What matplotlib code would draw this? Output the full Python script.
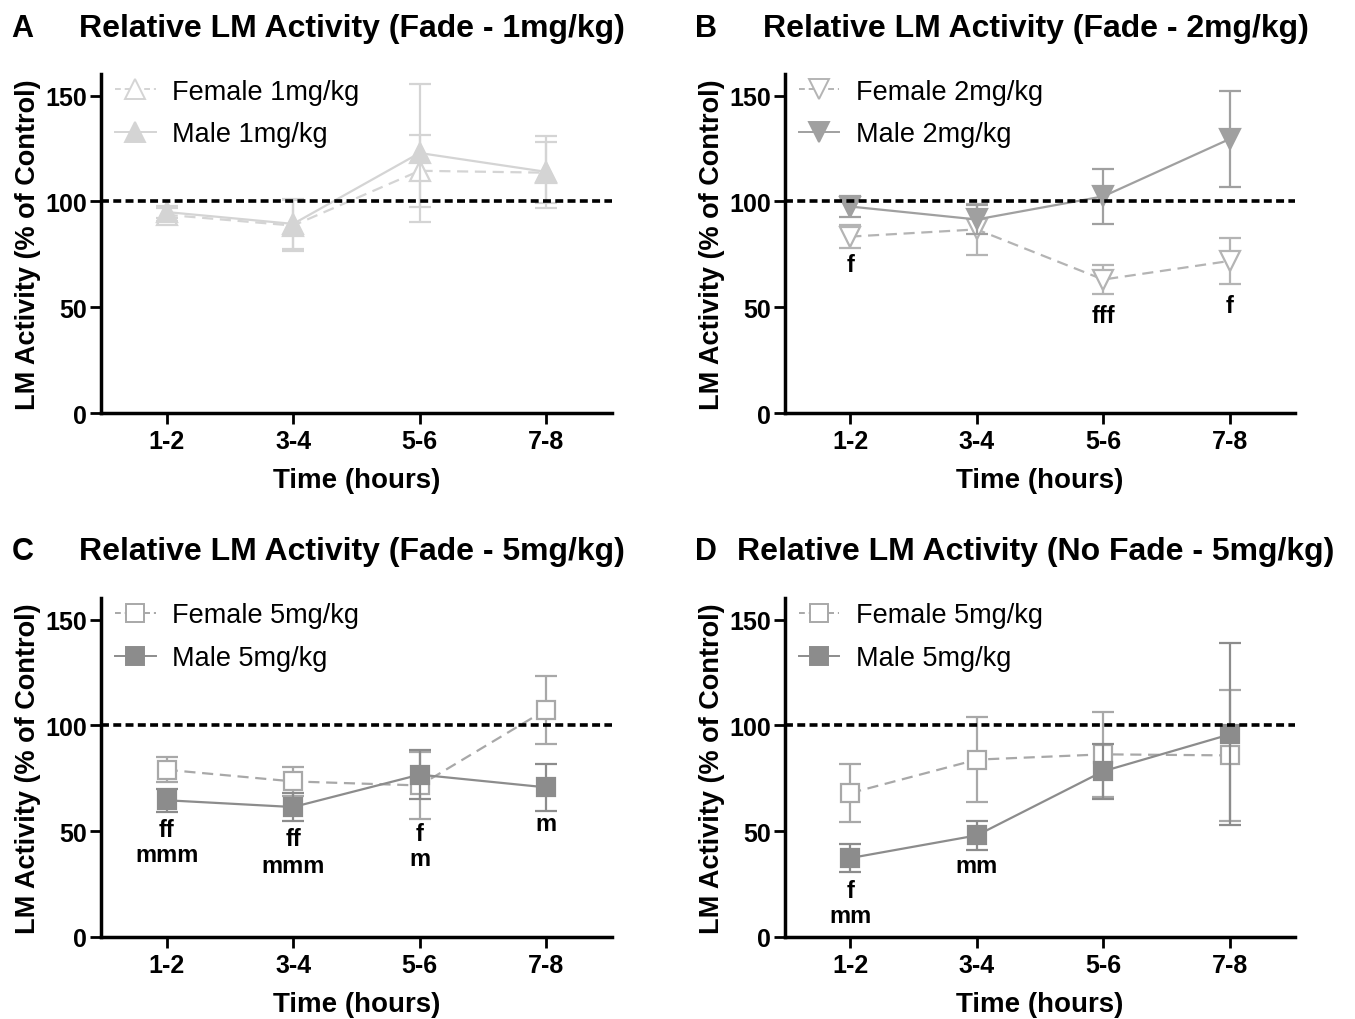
import matplotlib
matplotlib.use("Agg")
import matplotlib.pyplot as plt
from matplotlib.lines import Line2D

plt.rcParams['font.family'] = ['Liberation Sans', 'DejaVu Sans']

times = ["1-2", "3-4", "5-6", "7-8"]

# Panel A (Fade - 1mg/kg)
a_female = [93.7, 88.6, 114.5, 113.6]
a_female_err = [3, 12, 17, 14.5]
a_male = [95, 89.4, 122.9, 114]
a_male_err = [3, 11.7, 32.5, 17]

# Panel B (Fade - 2mg/kg)
b_female = [83.4, 86.8, 63.1, 71.9]
b_female_err = [5.6, 12, 7, 11]
b_male = [97.6, 91.5, 102.4, 129.5]
b_male_err = [5, 7, 13, 22.5]

# Panel C (Fade - 5mg/kg)
c_female = [79, 73.5, 71.6, 107.4]
c_female_err = [6, 7, 16, 16]
c_male = [64.6, 61.4, 76.7, 70.7]
c_male_err = [5.5, 6.5, 11.5, 11]

# Panel D (No Fade - 5mg/kg)
d_female = [68, 83.8, 86.3, 85.8]
d_female_err = [13.5, 20, 20, 31]
d_male = [37.3, 48, 78.3, 95.7]
d_male_err = [6.5, 7, 13, 43]

# annotations: (x index, y value, text)
b_annot = [(0, 70, "f"), (2, 46, "fff"), (3, 51, "f")]
c_annot = [(0, 51, "ff"), (0, 39, "mmm"), (1, 46.5, "ff"), (1, 34, "mmm"),
           (2, 49, "f"), (2, 37, "m"), (3, 53.5, "m")]
d_annot = [(0, 22, "f"), (0, 10, "mm"), (1, 34, "mm")]

panels = [
    dict(letter="A", title="Relative LM Activity (Fade - 1mg/kg)",
         f=a_female, fe=a_female_err, m=a_male, me=a_male_err,
         flab="Female 1mg/kg", mlab="Male 1mg/kg",
         fmk="^", mmk="^", fcol="#d4d4d4", mcol="#d4d4d4", ann=[],
         rect=[0.0745, 0.594, 0.377, 0.332]),
    dict(letter="B", title="Relative LM Activity (Fade - 2mg/kg)",
         f=b_female, fe=b_female_err, m=b_male, me=b_male_err,
         flab="Female 2mg/kg", mlab="Male 2mg/kg",
         fmk="v", mmk="v", fcol="#b4b4b4", mcol="#a0a0a0", ann=b_annot,
         rect=[0.579, 0.594, 0.377, 0.332]),
    dict(letter="C", title="Relative LM Activity (Fade - 5mg/kg)",
         f=c_female, fe=c_female_err, m=c_male, me=c_male_err,
         flab="Female 5mg/kg", mlab="Male 5mg/kg",
         fmk="s", mmk="s", fcol="#a8a8a8", mcol="#8c8c8c", ann=c_annot,
         rect=[0.0745, 0.0804, 0.377, 0.332]),
    dict(letter="D", title="Relative LM Activity (No Fade - 5mg/kg)",
         f=d_female, fe=d_female_err, m=d_male, me=d_male_err,
         flab="Female 5mg/kg", mlab="Male 5mg/kg",
         fmk="s", mmk="s", fcol="#a8a8a8", mcol="#8c8c8c", ann=d_annot,
         rect=[0.579, 0.0804, 0.377, 0.332]),
]

fig = plt.figure(figsize=(13.55, 10.2), dpi=100)

for p in panels:
    ax = fig.add_axes(p["rect"])
    x = list(range(len(times)))
    ms = 14 if p["fmk"] != "s" else 13
    ax.errorbar(x, p["f"], yerr=p["fe"], color=p["fcol"], linestyle=(0, (5, 3)),
                lw=1.6, marker=p["fmk"], ms=ms, mfc="white", mec=p["fcol"], mew=1.6,
                capsize=8, capthick=1.6, elinewidth=1.6, zorder=3)
    ax.errorbar(x, p["m"], yerr=p["me"], color=p["mcol"], linestyle="-",
                lw=1.6, marker=p["mmk"], ms=ms, mfc=p["mcol"], mec=p["mcol"], mew=1.6,
                capsize=8, capthick=1.6, elinewidth=1.6, zorder=4)
    ax.axhline(100, color="black", lw=2.6, linestyle=(0, (2.2, 1.2)), zorder=5)
    for xi, yv, t in p["ann"]:
        ax.text(xi, yv, t, ha="center", va="center", fontsize=17, fontweight="bold")
    ax.set_xlim(-0.52, 3.52)
    ax.set_ylim(0, 160)
    ax.set_yticks([0, 50, 100, 150])
    ax.set_xticks(x)
    ax.set_xticklabels(times)
    for s in ["top", "right"]:
        ax.spines[s].set_visible(False)
    for s in ["left", "bottom"]:
        ax.spines[s].set_linewidth(2.5)
    ax.tick_params(width=2, length=8, labelsize=18)
    ax.tick_params(axis="y", pad=2)
    for lab in ax.get_xticklabels() + ax.get_yticklabels():
        lab.set_fontweight("bold")
    ax.set_xlabel("Time (hours)", fontsize=20, fontweight="bold", labelpad=10)
    ax.set_ylabel("LM Activity (% of Control)", fontsize=19.5, fontweight="bold", labelpad=3)

    handles = [
        Line2D([], [], color=p["fcol"], linestyle=(0, (3, 2)), lw=1.4, marker=p["fmk"],
               ms=ms, mfc="white", mec=p["fcol"], mew=1.4),
        Line2D([], [], color=p["mcol"], linestyle="-", lw=1.4, marker=p["mmk"],
               ms=ms, mfc=p["mcol"], mec=p["mcol"], mew=1.4),
    ]
    ax.legend(handles, [p["flab"], p["mlab"]], loc="upper left", frameon=False,
              fontsize=19.5, bbox_to_anchor=(-0.02, 1.06), handlelength=1.5,
              handletextpad=0.6, labelspacing=0.62)

    bbox = p["rect"]
    ty = bbox[1] + bbox[3] + 0.046
    fig.text(bbox[0] - 0.066, ty, p["letter"], fontsize=22, fontweight="bold",
             ha="left", va="center")
    fig.text(bbox[0] + bbox[2] / 2 - 0.003, ty, p["title"], fontsize=23,
             fontweight="bold", ha="center", va="center")

fig.savefig("out.png", dpi=100)
